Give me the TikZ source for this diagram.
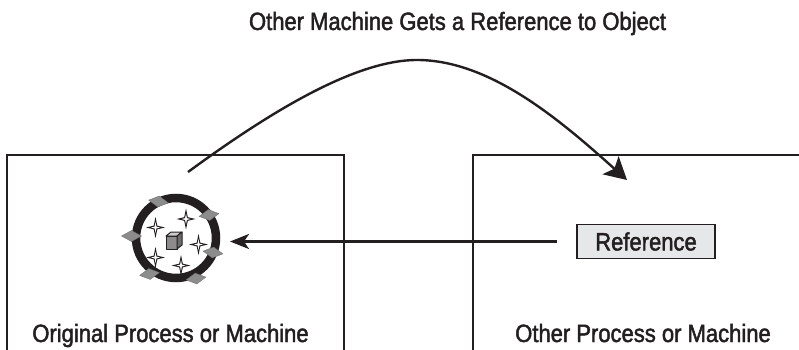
\documentclass[tikz,border=0pt]{standalone}
\usepackage{fontspec}
\setmainfont[FakeStretch=0.88,FakeBold=1.8]{Liberation Sans}
\usetikzlibrary{arrows.meta}
\definecolor{ink}{HTML}{231F20}
\definecolor{diam}{HTML}{8C8C8C}
\definecolor{pale}{HTML}{E6E7E8}
\tikzset{
  x=1pt,y=-1pt,
  lbl/.style={font=\fontsize{25}{29}\selectfont,text=ink,inner sep=0pt,anchor=base},
  frame/.style={draw=ink,line width=1.6pt},
  conn/.style={draw=ink,line width=2.4pt},
  refbox/.style={draw=ink,line width=1.8pt,fill=pale,minimum width=138,minimum height=34,inner sep=0pt,font=\fontsize{25}{29}\selectfont,text=ink},
  dia/.style={fill=diam,draw=diam!70!ink,line width=0.3pt},
}
\newcommand{\sparkle}[2]{%
  \fill[ink] (#1-9.5,#2) -- (#1-1.8,#2-1.8) -- (#1,#2-10.5) -- (#1+1.8,#2-1.8) -- (#1+9.5,#2) -- (#1+1.8,#2+1.8) -- (#1,#2+10.5) -- (#1-1.8,#2+1.8) -- cycle;
  \fill[white] (#1-4.5,#2) -- (#1-0.9,#2-0.9) -- (#1,#2-5.5) -- (#1+0.9,#2-0.9) -- (#1+4.5,#2) -- (#1+0.9,#2+0.9) -- (#1,#2+5.5) -- (#1-0.9,#2+0.9) -- cycle;}
\newcommand{\gem}[3]{%
  \begin{scope}[shift={(#1,#2)},rotate=#3]
  \fill[dia] (-10,0) -- (0,-5.5) -- (10,0) -- (0,5.5) -- cycle;
  \end{scope}}
\begin{document}
\begin{tikzpicture}
\useasboundingbox (0,0) rectangle (799,350);
\fill[white] (0,0) rectangle (799,350);
\draw[frame] (7,350) -- (7,155) -- (344,155) -- (344,350);
\draw[frame] (799,155) -- (473,155) -- (473,350);
\node[lbl] (title) at (457.5,30) {Other Machine Gets a Reference to Object};
\node[lbl] (leftlabel) at (170.5,342) {Original Process or Machine};
\node[lbl] (rightlabel) at (643,342) {Other Process or Machine};
\node[refbox] (ref) at (646,241.5) {Reference};
% object ring
\draw[ink,line width=8.5pt] (176,238) circle (40);
\gem{158.5}{201.5}{-8}
\gem{209}{215}{8}
\gem{131.5}{236}{0}
\gem{213}{252.5}{-8}
\gem{149.5}{274}{8}
\gem{196}{278.5}{8}
\sparkle{186}{219}
\sparkle{155.5}{227.5}
\sparkle{198.5}{244.5}
\sparkle{155.5}{257.5}
\sparkle{181}{265.5}
% cube
\fill[diam,draw=ink,line width=1pt,line join=round] (166,236) -- (177,236) -- (177,249) -- (166,249) -- cycle;
\fill[pale!70!diam,draw=ink,line width=1pt,line join=round] (166,236) -- (171,232) -- (182,232) -- (177,236) -- cycle;
\fill[diam!70!ink,draw=ink,line width=1pt,line join=round] (177,236) -- (182,232) -- (182,245) -- (177,249) -- cycle;
\coordinate (objectedge) at (230,241.5);
\coordinate (curvestart) at (188,172);
\coordinate (curveend) at (627,180);
\draw[conn,shorten <=19,-{Stealth[length=19,width=15,inset=5]}] (ref.west) -- (objectedge);
\draw[conn,-{Stealth[length=22,width=24,inset=5]}] (curvestart) .. controls (270,112) and (355,60) .. (417,60) .. controls (490,60) and (560,120) .. (curveend);
\end{tikzpicture}
\end{document}
